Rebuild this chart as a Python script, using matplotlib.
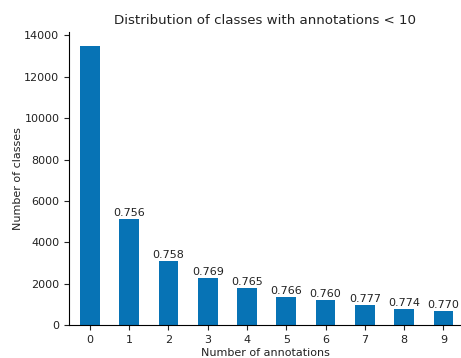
import numpy as np
import matplotlib.pyplot as plt

# counts of classes per number of annotations
n_annotations = [0, 1, 2, 3, 4, 5, 6, 7, 8, 9]
n_classes = [13500, 5110, 3090, 2270, 1800, 1360, 1210, 970, 775, 680]
scores = [None, "0.756", "0.758", "0.769", "0.765", "0.766", "0.760", "0.777", "0.774", "0.770"]

fig = plt.figure(figsize=(4.61, 3.58), dpi=100)
ax = fig.add_axes([0.15, 0.092, 0.85, 0.819])

bars = ax.bar(n_annotations, n_classes, width=0.5, color="#0773b5")
for b, s in zip(bars, scores):
    if s is None:
        continue
    ax.text(b.get_x() + b.get_width() / 2, b.get_height() + 60, s,
            ha="center", va="bottom", fontsize=8, color="#222222")

ax.set_xlim(-0.53, 9.45)
ax.set_ylim(0, 14175)
ax.set_xticks(n_annotations)
ax.set_yticks(np.arange(0, 14001, 2000))
ax.tick_params(labelsize=8, colors="#222222")
ax.spines["top"].set_visible(False)
ax.spines["right"].set_visible(False)
ax.set_xlabel("Number of annotations", fontsize=8, labelpad=2, color="#222222")
ax.set_ylabel("Number of classes", fontsize=8, labelpad=1, color="#222222")
ax.set_title("Distribution of classes with annotations < 10", fontsize=9.6, color="#222222")

fig.savefig("out.png", dpi=100)
